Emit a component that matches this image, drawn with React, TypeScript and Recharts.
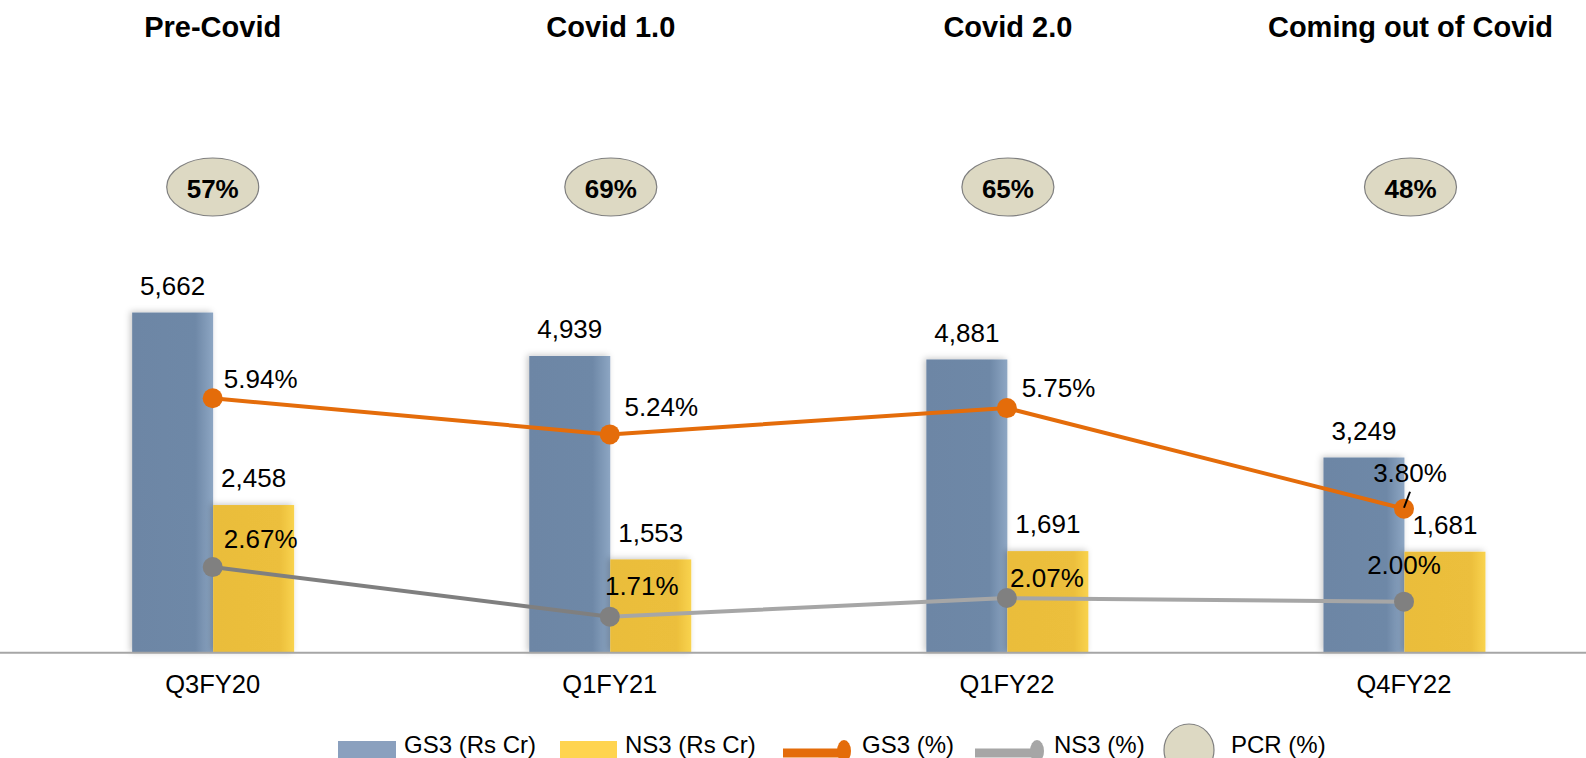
import React from 'react';
import { ComposedChart, Bar, Line, XAxis, YAxis, LabelList } from 'recharts';

const categories = ['Q3FY20', 'Q1FY21', 'Q1FY22', 'Q4FY22'];
const phases = ['Pre-Covid', 'Covid 1.0', 'Covid 2.0', 'Coming out of Covid'];
const gs3Amount = [5662, 4939, 4881, 3249];
const ns3Amount = [2458, 1553, 1691, 1681];
const gs3Pct = [5.94, 5.24, 5.75, 3.8];
const ns3Pct = [2.67, 1.71, 2.07, 2.0];
const pcrPct = [57, 69, 65, 48];
const tickIdx = [0, 1, 2, 3];

const data = categories.map((c, i) => ({
  idx: i,
  category: c,
  phase: phases[i],
  gs3: gs3Amount[i],
  ns3: ns3Amount[i],
  gs3p: gs3Pct[i],
  ns3p: ns3Pct[i],
  pcr: pcrPct[i],
}));

const FONT = '"Liberation Sans", Arial, Helvetica, sans-serif';
const W = 1586;
const H = 758;

// label placement offsets relative to each point (style, not data)
const gs3pOff = [
  { dx: 48, dy: -10.6 },
  { dx: 51.5, dy: -18 },
  { dx: 51.6, dy: -10.6 },
  { dx: 6, dy: -27 },
];
const ns3pOff = [
  { dx: 48, dy: -19 },
  { dx: 32, dy: -21.7 },
  { dx: 40, dy: -10.6 },
  { dx: 0, dy: -27.4 },
];
const headerDx = [0, 1, 1, 6.5];

const BarShape = (props: any) => {
  const { x, y, width, height, gradId } = props;
  if (!height || height <= 0) return null;
  return (
    <rect x={x} y={y} width={width} height={height} fill={`url(#${gradId})`} filter="url(#barShadow)" />
  );
};

const BarLabel = (props: any) => {
  const { x, y, width, value } = props;
  return (
    <text x={x + width / 2} y={y - 17.8} textAnchor="middle" fontFamily={FONT} fontSize={26} fill="#000">
      {Number(value).toLocaleString('en-US')}
    </text>
  );
};

const makePctLabel = (offs: { dx: number; dy: number }[], leader: boolean) => (props: any) => {
  const { x, y, value, index } = props;
  const o = offs[index] || { dx: 0, dy: -12 };
  return (
    <g>
      <text x={x + o.dx} y={y + o.dy} textAnchor="middle" fontFamily={FONT} fontSize={26} fill="#000">
        {Number(value).toFixed(2)}%
      </text>
      {leader && index === 3 ? (
        <line x1={x + 6} y1={y - 17} x2={x} y2={y - 1} stroke="#000" strokeWidth={2} />
      ) : null}
    </g>
  );
};

const Gs3PctLabel = makePctLabel(gs3pOff, true);
const Ns3PctLabel = makePctLabel(ns3pOff, false);

const BottomTick = (props: any) => {
  const { x, payload } = props;
  const i = payload.value as number;
  return (
    <text x={x} y={693.3} textAnchor="middle" fontFamily={FONT} fontSize={25.5} fill="#000">
      {categories[i]}
    </text>
  );
};

const TopTick = (props: any) => {
  const { payload } = props;
  const i = payload.value as number;
  const x = props.x + (headerDx[i] || 0);
  return (
    <g>
      <text x={x} y={37} textAnchor="middle" fontFamily={FONT} fontSize={29} fontWeight="bold" fill="#000">
        {phases[i]}
      </text>
      <ellipse cx={x} cy={187} rx={46} ry={29} fill="#DDD9C3" stroke="#7F7F7F" strokeWidth={1.2} />
      <text x={x} y={198} textAnchor="middle" fontFamily={FONT} fontSize={26} fontWeight="bold" fill="#000">
        {pcrPct[i]}%
      </text>
    </g>
  );
};

const Dot = (color: string) => (props: any) => {
  const { cx, cy } = props;
  if (cx == null || cy == null) return null;
  return <circle cx={cx} cy={cy} r={10} fill={color} />;
};
const OrangeDot = Dot('#E46C0A');
const GrayDot = Dot('#808080');

const xDomain = [-0.53564, 3.45832];

const Legend = () => (
  <svg width={W} height={H} style={{ position: 'absolute', left: 0, top: 0, pointerEvents: 'none' }}>
    <g fontFamily={FONT} fontSize={24} fill="#000">
      <rect x={338} y={741} width={58} height={22} fill="#8AA0BE" />
      <text x={404} y={753}>GS3 (Rs Cr)</text>
      <rect x={560} y={741} width={57} height={22} fill="#FFD44F" />
      <text x={625} y={753}>NS3 (Rs Cr)</text>
      <line x1={783} y1={753} x2={844} y2={753} stroke="#E46C0A" strokeWidth={9} />
      <ellipse cx={844} cy={751} rx={7} ry={11} fill="#E46C0A" />
      <text x={862} y={753}>GS3 (%)</text>
      <line x1={975} y1={753} x2={1037} y2={753} stroke="#A6A6A6" strokeWidth={9} />
      <ellipse cx={1037} cy={751} rx={7} ry={11} fill="#A6A6A6" />
      <text x={1054} y={753}>NS3 (%)</text>
      <ellipse cx={1189} cy={750} rx={25} ry={26} fill="#DDD9C3" stroke="#808080" strokeWidth={1.2} />
      <text x={1231} y={753}>PCR (%)</text>
    </g>
  </svg>
);

export default function App() {
  return (
    <div
      style={{
        position: 'absolute',
        left: 0,
        top: 0,
        width: W,
        height: H,
        overflow: 'hidden',
        background: '#fff',
      }}
    >
      <ComposedChart
        width={W}
        height={H}
        data={data}
        margin={{ top: 0, right: 0, bottom: 75.3, left: 0 }}
        barGap={0}
      >
        <defs>
          <linearGradient id="gs3Grad" x1="0" y1="0" x2="1" y2="0">
            <stop offset="0" stopColor="#6D86A5" />
            <stop offset="0.78" stopColor="#6E88A7" />
            <stop offset="1" stopColor="#8DA6C3" />
          </linearGradient>
          <linearGradient id="ns3Grad" x1="0" y1="0" x2="1" y2="0">
            <stop offset="0" stopColor="#EABD3A" />
            <stop offset="0.82" stopColor="#ECBF3C" />
            <stop offset="1" stopColor="#F9D34E" />
          </linearGradient>
          <linearGradient id="ns3Line" x1="0" y1="0" x2={W} y2="0" gradientUnits="userSpaceOnUse">
            <stop offset="0" stopColor="#7F7F7F" />
            <stop offset={610 / W} stopColor="#7F7F7F" />
            <stop offset={610 / W} stopColor="#A6A6A6" />
            <stop offset="1" stopColor="#A6A6A6" />
          </linearGradient>
          <filter id="barShadow" x="-20%" y="-10%" width="140%" height="120%">
            <feDropShadow dx="-2" dy="-1" stdDeviation="3" floodColor="#000" floodOpacity="0.22" />
          </filter>
        </defs>
        <XAxis
          xAxisId="top"
          orientation="top"
          type="number"
          dataKey="idx"
          domain={xDomain}
          ticks={tickIdx}
          height={112}
          axisLine={false}
          tickLine={false}
          tick={<TopTick />}
          interval={0}
        />
        <XAxis
          xAxisId="main"
          type="number"
          dataKey="idx"
          domain={xDomain}
          ticks={tickIdx}
          height={30}
          axisLine={{ stroke: '#A6A6A6', strokeWidth: 2 }}
          tickLine={false}
          tick={<BottomTick />}
          interval={0}
        />
        <YAxis yAxisId="amt" hide domain={[0, 9000]} type="number" />
        <YAxis yAxisId="pct" hide orientation="right" domain={[1.0112, 11.486]} type="number" />
        <Bar
          xAxisId="main"
          yAxisId="amt"
          dataKey="gs3"
          name="GS3 (Rs Cr)"
          barSize={81}
          shape={<BarShape gradId="gs3Grad" />}
          isAnimationActive={false}
        >
          <LabelList dataKey="gs3" content={<BarLabel />} />
        </Bar>
        <Bar
          xAxisId="main"
          yAxisId="amt"
          dataKey="ns3"
          name="NS3 (Rs Cr)"
          barSize={81}
          shape={<BarShape gradId="ns3Grad" />}
          isAnimationActive={false}
        >
          <LabelList dataKey="ns3" content={<BarLabel />} />
        </Bar>
        <Line
          xAxisId="main"
          yAxisId="pct"
          type="linear"
          dataKey="gs3p"
          name="GS3 (%)"
          stroke="#E46C0A"
          strokeWidth={4}
          dot={<OrangeDot />}
          activeDot={false}
          isAnimationActive={false}
        >
          <LabelList dataKey="gs3p" content={<Gs3PctLabel />} />
        </Line>
        <Line
          xAxisId="main"
          yAxisId="pct"
          type="linear"
          dataKey="ns3p"
          name="NS3 (%)"
          stroke="url(#ns3Line)"
          strokeWidth={4}
          dot={<GrayDot />}
          activeDot={false}
          isAnimationActive={false}
        >
          <LabelList dataKey="ns3p" content={<Ns3PctLabel />} />
        </Line>
      </ComposedChart>
      <Legend />
    </div>
  );
}
